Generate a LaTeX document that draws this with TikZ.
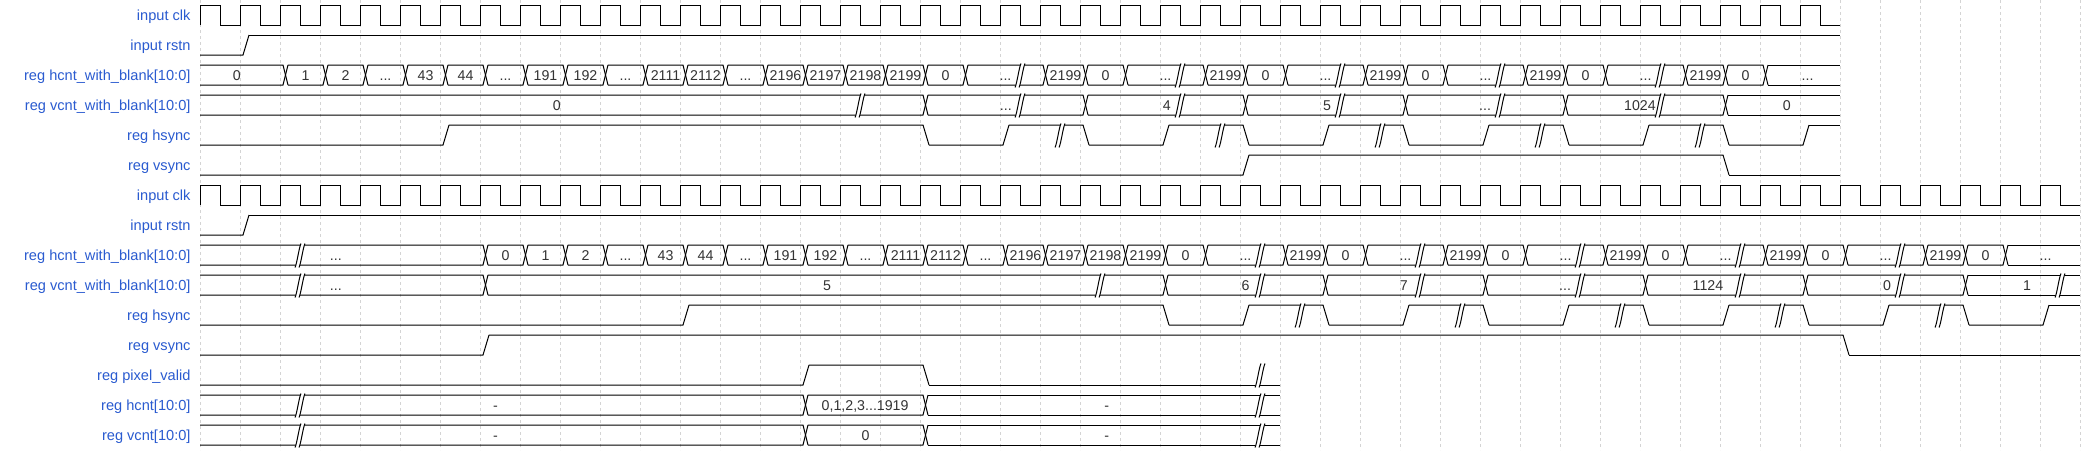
\documentclass[tikz,border=0pt]{standalone}
\usepackage{fontspec}
\setmainfont{Liberation Sans}
\definecolor{labblue}{HTML}{2A5BD0}
\definecolor{valgray}{HTML}{333333}
\definecolor{gridgray}{HTML}{D4D4D4}
\tikzset{
  wave/.style={line width=1pt, black, line join=miter},
  gridline/.style={gridgray, line width=0.9pt, dash pattern=on 3pt off 3pt},
  lab/.style={font=\fontsize{14.6}{17}\selectfont, text=labblue, anchor=base east, inner sep=0pt},
  val/.style={font=\fontsize{14.2}{17}\selectfont, text=valgray, anchor=base, inner sep=0pt},
}
\newcommand\tdDots{...}
% clock: row, number of cycles
\newcommand\tdClk[2]{%
  \pgfmathsetmacro\tdCt{30*#1+5}%
  \pgfmathsetmacro\tdCb{30*#1+25}%
  \pgfmathtruncatemacro\tdCn{#2-1}%
  \draw[wave] (200,\tdCb) \foreach \tdK in {0,...,\tdCn} { -- ({200+40*\tdK},\tdCt) -- ({220+40*\tdK},\tdCt) -- ({220+40*\tdK},\tdCb) -- ({240+40*\tdK},\tdCb) };%
}
% single bit: row, init level, transitions, last transition, final level, end
\newcommand\tdSig[6]{%
  \pgfmathsetmacro\tdSt{30*#1+5}%
  \pgfmathsetmacro\tdSb{30*#1+25}%
  \foreach \tdT [count=\tdN, remember=\tdT as \tdLt (initially -100)] in {#3}{%
    \pgfmathsetmacro\tdLo{mod(#2+\tdN-1,2)}%
    \pgfmathsetmacro\tdYo{ifthenelse(\tdLo>0.5,\tdSt,\tdSb)}%
    \pgfmathsetmacro\tdYn{ifthenelse(\tdLo>0.5,\tdSb,\tdSt)}%
    \pgfmathsetmacro\tdXa{ifthenelse(\tdLt<-50,200,200+40*\tdLt+9)}%
    \pgfmathsetmacro\tdXb{200+40*\tdT+3}%
    \draw[wave] (\tdXa,\tdYo) -- (\tdXb,\tdYo) -- ({\tdXb+6},\tdYn);%
  }%
  \pgfmathsetmacro\tdYf{ifthenelse(#5>0.5,\tdSt,\tdSb)}%
  \draw[wave] ({200+40*#4+9},\tdYf) -- ({200+40*#6},\tdYf);%
}
% bus: row, transitions, last transition, end
\newcommand\tdBus[4]{%
  \pgfmathsetmacro\tdBt{30*#1+5}%
  \pgfmathsetmacro\tdBb{30*#1+25}%
  \foreach \tdT [remember=\tdT as \tdLt (initially -100)] in {#2}{%
    \pgfmathsetmacro\tdXa{ifthenelse(\tdLt<-50,200,200+40*\tdLt+8)}%
    \pgfmathsetmacro\tdXb{200+40*\tdT+3}%
    \draw[wave] (\tdXa,\tdBt) -- (\tdXb,\tdBt) -- ({\tdXb+5},\tdBb);%
    \draw[wave] (\tdXa,\tdBb) -- (\tdXb,\tdBb) -- ({\tdXb+5},\tdBt);%
  }%
  \draw[wave] ({200+40*#3+8},\tdBt) -- ({200+40*#4},\tdBt);%
  \draw[wave] ({200+40*#3+8},\tdBb) -- ({200+40*#4},\tdBb);%
}
% break mark: row, position
\newcommand\tdBrk[2]{%
  \pgfmathsetmacro\tdP{200+40*#2}%
  \pgfmathsetmacro\tdU{30*#1+3.5}%
  \pgfmathsetmacro\tdD{30*#1+27.5}%
  \fill[white] ({\tdP-5},\tdD) -- ({\tdP+1},\tdU) -- ({\tdP+5},\tdU) -- ({\tdP-1},\tdD) -- cycle;%
  \draw[wave] ({\tdP-5},\tdD) .. controls ({\tdP-3},{\tdD-4}) and ({\tdP-1},{\tdU+4}) .. ({\tdP+1},\tdU);%
  \draw[wave] ({\tdP-1},\tdD) .. controls ({\tdP+1},{\tdD-4}) and ({\tdP+3},{\tdU+4}) .. ({\tdP+5},\tdU);%
}
\newcommand\tdBrks[2]{\foreach \tdC in {#2}{\tdBrk{#1}{\tdC}}}
% values: row, list of centre/label
\newcommand\tdVals[2]{\foreach \tdC/\tdS [count=\tdI] in {#2}{\node[val] (v#1n\tdI) at ({205.5+40*\tdC},{30*#1+20.5}) {\tdS};}}
\begin{document}
\begin{tikzpicture}[x=1pt,y=-1pt]
\fill[white] (0,0) rectangle (2100,450);
\useasboundingbox (0,0) rectangle (2100,450);
% grid
\foreach \tdK in {0,...,47} \draw[gridline] ({200+40*\tdK},0) -- ({200+40*\tdK},450);
% signal names
\foreach \tdR/\tdS in {0/input clk,1/input rstn,2/{reg hcnt\_with\_blank[10:0]},3/{reg vcnt\_with\_blank[10:0]},4/reg hsync,5/reg vsync,6/input clk,7/input rstn,8/{reg hcnt\_with\_blank[10:0]},9/{reg vcnt\_with\_blank[10:0]},10/reg hsync,11/reg vsync,12/{reg pixel\_valid},13/{reg hcnt[10:0]},14/{reg vcnt[10:0]}}
  \node[lab] (lab\tdR) at (190.7,{30*\tdR+20.5}) {\tdS};
% ---------- top section ----------
\tdClk{0}{41}
\tdSig{1}{0}{1}{1}{1}{41}
\tdBus{2}{2,3,4,5,6,7,8,9,10,11,12,13,14,15,16,17,18,19,21,22,23,25,26,27,29,30,31,33,34,35,37,38,39}{39}{41}
\tdBus{3}{18,22,26,30,34,38}{38}{41}
\tdSig{4}{0}{6,18,20,22,24,26,28,30,32,34,36,38,40}{40}{1}{41}
\tdSig{5}{0}{26,38}{38}{0}{41}
\tdBrks{2}{20.5,24.5,28.5,32.5,36.5}
\tdBrks{3}{16.5,20.5,24.5,28.5,32.5,36.5}
\tdBrks{4}{21.5,25.5,29.5,33.5,37.5}
\tdVals{2}{0.78/0,2.5/1,3.5/2,4.5/\tdDots,5.5/43,6.5/44,7.5/\tdDots,8.5/191,9.5/192,10.5/\tdDots,11.5/2111,12.5/2112,13.5/\tdDots,14.5/2196,15.5/2197,16.5/2198,17.5/2199,18.5/0,20/\tdDots,21.5/2199,22.5/0,24/\tdDots,25.5/2199,26.5/0,28/\tdDots,29.5/2199,30.5/0,32/\tdDots,33.5/2199,34.5/0,36/\tdDots,37.5/2199,38.5/0,40.05/\tdDots}
\tdVals{3}{8.78/0,20.01/\tdDots,24.03/4,28.04/5,31.99/\tdDots,35.86/1024,39.53/0}
% ---------- bottom section ----------
\tdClk{6}{47}
\tdSig{7}{0}{1}{1}{1}{47}
\tdBus{8}{7,8,9,10,11,12,13,14,15,16,17,18,19,20,21,22,23,24,25,27,28,29,31,32,33,35,36,37,39,40,41,43,44,45}{45}{47}
\tdBus{9}{7,24,28,32,36,40,44}{44}{47}
\tdSig{10}{0}{12,24,26,28,30,32,34,36,38,40,42,44,46}{46}{1}{47}
\tdSig{11}{0}{7,41}{41}{0}{47}
\tdSig{12}{0}{15,18}{18}{0}{27}
\tdBus{13}{15,18}{18}{27}
\tdBus{14}{15,18}{18}{27}
\tdBrks{8}{2.5,26.5,30.5,34.5,38.5,42.5}
\tdBrks{9}{2.5,22.5,26.5,30.5,34.5,38.5,42.5,46.5}
\tdBrks{10}{27.5,31.5,35.5,39.5,43.5}
\tdBrks{12}{26.5}
\tdBrks{13}{2.5,26.5}
\tdBrks{14}{2.5,26.5}
\tdVals{8}{3.26/\tdDots,7.5/0,8.5/1,9.5/2,10.5/\tdDots,11.5/43,12.5/44,13.5/\tdDots,14.5/191,15.5/192,16.5/\tdDots,17.5/2111,18.5/2112,19.5/\tdDots,20.5/2196,21.5/2197,22.5/2198,23.5/2199,24.5/0,26/\tdDots,27.5/2199,28.5/0,30/\tdDots,31.5/2199,32.5/0,34/\tdDots,35.5/2199,36.5/0,38/\tdDots,39.5/2199,40.5/0,42/\tdDots,43.5/2199,44.5/0,46/\tdDots}
\tdVals{9}{3.26/\tdDots,15.54/5,26/6,29.96/7,33.99/\tdDots,37.56/1124,42.04/0,45.54/1}
\tdVals{13}{7.25/-,22.53/-}
\node[val] (v13range) at ({205.5+40*16.49},{30*13+20.5}) {0,1,2,3...1919};
\tdVals{14}{7.25/-,16.5/0,22.53/-}
\end{tikzpicture}
\end{document}
